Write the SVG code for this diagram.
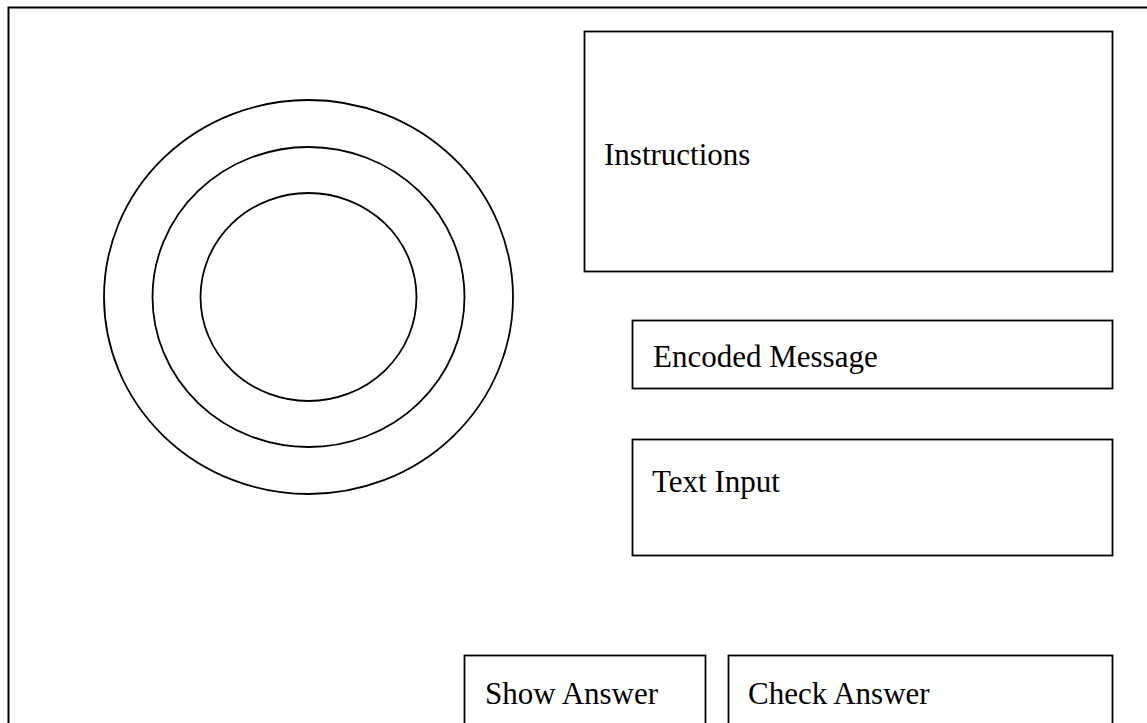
<svg xmlns="http://www.w3.org/2000/svg" width="1147" height="723" viewBox="0 0 1147 723">
  <style>
    .frame { fill: none; stroke: #000; stroke-width: 2; }
    .box { fill: #fff; stroke: #000; stroke-width: 1.8; }
    .ring { fill: none; stroke: #000; stroke-width: 1.8; }
    .label { font-family: "Liberation Serif", "Times New Roman", serif; font-size: 31px; fill: #000; }
  </style>
  <rect width="1147" height="723" fill="#fff"/>

  <!-- page frame, running off the right and bottom edges -->
  <rect class="frame" x="8.5" y="7.5" width="1160" height="740"/>

  <!-- concentric dial -->
  <g id="dial">
    <ellipse class="ring" cx="308.5" cy="297" rx="204.5" ry="197"/>
    <ellipse class="ring" cx="308.5" cy="297" rx="156" ry="150"/>
    <ellipse class="ring" cx="308.5" cy="297" rx="108" ry="104"/>
  </g>

  <g id="instructions">
    <rect class="box" x="584.5" y="31.5" width="528" height="240"/>
    <text class="label" x="604" y="165">Instructions</text>
  </g>

  <g id="encoded-message">
    <rect class="box" x="632.5" y="320.5" width="480" height="68"/>
    <text class="label" x="653" y="367">Encoded Message</text>
  </g>

  <g id="text-input">
    <rect class="box" x="632.5" y="439.5" width="480" height="116"/>
    <text class="label" x="652" y="492">Text Input</text>
  </g>

  <g id="show-answer">
    <rect class="box" x="464.5" y="655.5" width="241" height="90"/>
    <text class="label" x="485" y="704">Show Answer</text>
  </g>

  <g id="check-answer">
    <rect class="box" x="728.5" y="655.5" width="384" height="90"/>
    <text class="label" x="748" y="704">Check Answer</text>
  </g>

  <g id="connectors"/>
</svg>
